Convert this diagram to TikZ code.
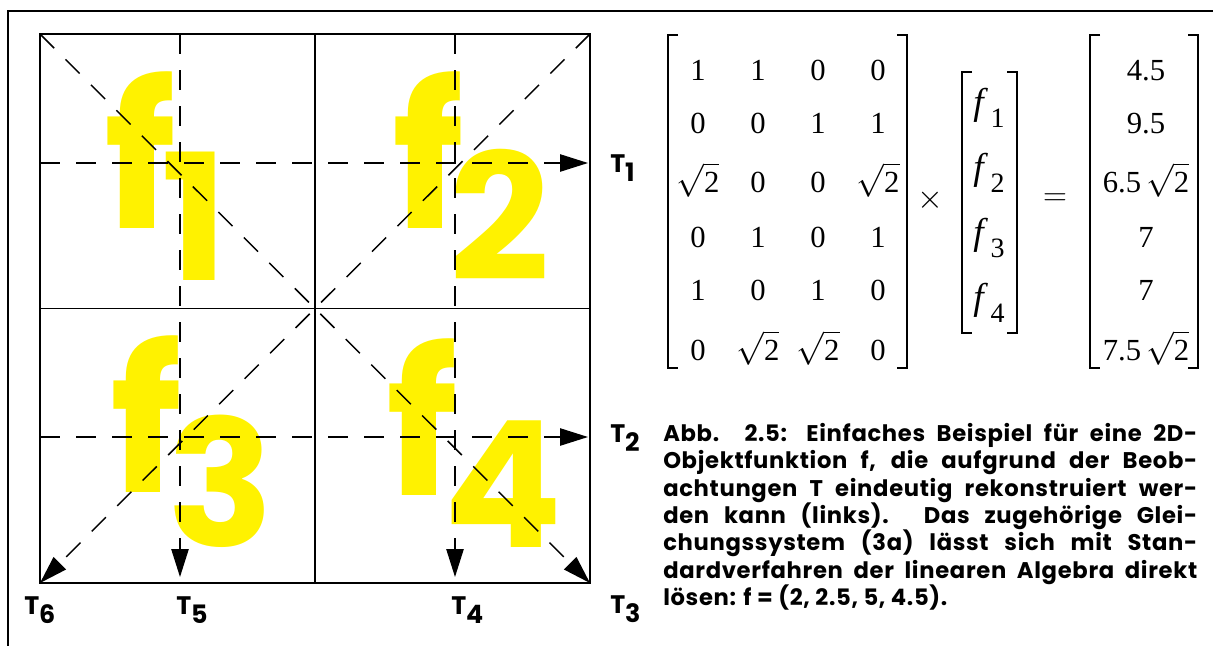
\documentclass[tikz,border=0pt]{standalone}
\usepackage{amsmath,amssymb}
\usepackage{fontspec}
\setmainfont{Poppins}
\newfontfamily\eqfont{Liberation Serif}
\newfontfamily\capfont[LetterSpace=3]{Poppins}
\usepackage{tikz}
\usetikzlibrary{arrows.meta,positioning,calc}

\newcommand{\fsub}[2]{f\kern-11pt\raisebox{-#2}[0pt][0pt]{\fontsize{132}{132}\selectfont #1}}
\newcommand{\rttwo}{\smash{$\sqrt{\mbox{2}}$}}

\begin{document}
\begin{tikzpicture}[x=0.75pt,y=-0.75pt,
  box/.style={line width=1.1pt},
  ray/.style={line width=1.1pt,dash pattern=on 15pt off 12pt,-{Triangle[length=21pt,width=13pt]}},
  brk/.style={line width=0.8pt},
  ylab/.style={text=yellow,font=\bfseries\fontsize{150}{150}\selectfont,inner sep=0,anchor=base west},
  tlab/.style={font=\bfseries\fontsize{19}{19}\selectfont,inner sep=0,anchor=base west},
  eq/.style={font=\eqfont\fontsize{23}{23}\selectfont,inner sep=0,anchor=base}]
\useasboundingbox (0,0) rectangle (1213,646);
\draw[line width=1.3pt] (1213,11) -- (8,11) -- (8,646);

% cells
\node[ylab] (f1) at (104,228) {\fsub{1}{39pt}};
\node[ylab] (f2) at (392,228) {\fsub{2}{39pt}};
\node[ylab] (f3) at (110,492) {\fsub{3}{41pt}};
\node[ylab] (f4) at (386,495) {\fsub{4}{39pt}};

\coordinate (tl) at (40,34);  \coordinate (tr) at (590,34);
\coordinate (bl) at (40,583); \coordinate (br) at (590,583);
\draw[box] (tl) rectangle (br);
\draw[box] (315,34) -- (315,583);
\draw[box] (40,308.5) -- (590,308.5);

% rays
\coordinate (r1a) at (40,163);  \coordinate (r1b) at (588,163);
\coordinate (r2a) at (40,437);  \coordinate (r2b) at (588,437);
\coordinate (r5a) at (180,34);  \coordinate (r5b) at (180,577);
\coordinate (r4a) at (455,34);  \coordinate (r4b) at (455,577);
\draw[ray] (r1a) -- (r1b);
\draw[ray] (r2a) -- (r2b);
\draw[ray] (r5a) -- (r5b);
\draw[ray] (r4a) -- (r4b);
\draw[ray] (tl) -- (br);
\draw[ray] (tr) -- (bl);

\node[tlab] (t1) at (610,172) {T\raisebox{-7pt}{1}};
\node[tlab] (t2) at (610,442) {T\raisebox{-7pt}{2}};
\node[tlab] (t3) at (610,613) {T\raisebox{-7pt}{3}};
\node[tlab] (t4) at (451,614) {T\raisebox{-7pt}{4}};
\node[tlab] (t5) at (176,614) {T\raisebox{-7pt}{5}};
\node[tlab] (t6) at (24,614) {T\raisebox{-7pt}{6}};

% equation
\draw[brk] (678,35) -- (668,35) -- (668,368) -- (678,368);
\draw[brk] (897,35) -- (907,35) -- (907,368) -- (897,368);
\foreach \r/\y/\a/\b/\c/\d in {1/80/1/1/0/0, 2/133/0/0/1/1, 3/192/\rttwo/0/0/\rttwo,
    4/247/0/1/0/1, 5/300/1/0/1/0, 6/360/0/\rttwo/\rttwo/0}{
  \node[eq] (a\r-1) at (698,\y) {\a};
  \node[eq] (a\r-2) at (758,\y) {\b};
  \node[eq] (a\r-3) at (818,\y) {\c};
  \node[eq] (a\r-4) at (878,\y) {\d};
}
\node[eq,anchor=center] (times) at (930,200) {$\times$};
\draw[brk] (972,72) -- (962,72) -- (962,333) -- (972,333);
\draw[brk] (1007,72) -- (1017,72) -- (1017,333) -- (1007,333);
\foreach \r/\y in {1/114,2/179,3/244,4/309}{
  \node[eq] (x\r) at (989,\y) {\fontsize{28}{28}\selectfont\textit{f}\kern2pt\raisebox{-10pt}{\fontsize{21}{21}\selectfont\r}};
}
\node[eq,anchor=center] (equals) at (1055,200) {$=$};
\draw[brk] (1100,35) -- (1090,35) -- (1090,368) -- (1100,368);
\draw[brk] (1188,35) -- (1198,35) -- (1198,368) -- (1188,368);
\foreach \r/\y/\v in {1/80/4.5, 2/133/9.5, 3/192/6.5\,\rttwo, 4/247/7, 5/300/7, 6/360/7.5\,\rttwo}{
  \node[eq] (b\r) at (1146,\y) {\v};
}

% caption
\node[font=\capfont\bfseries\fontsize{17}{20.5}\selectfont,inner sep=0,anchor=north west,align=left] (cap) at (663,423) {%
\makebox[400.5pt][s]{Abb. 2.5: Einfaches Beispiel für eine 2D-}\\
\makebox[400.5pt][s]{Objektfunktion f, die aufgrund der Beob-}\\
\makebox[400.5pt][s]{achtungen T eindeutig rekonstruiert wer-}\\
\makebox[400.5pt][s]{den kann (links). Das zugehörige Glei-}\\
\makebox[400.5pt][s]{chungssystem (3a) lässt sich mit Stan-}\\
\makebox[400.5pt][s]{dardverfahren der linearen Algebra direkt}\\
lösen: f = (2, 2.5, 5, 4.5).};
\end{tikzpicture}
\end{document}
